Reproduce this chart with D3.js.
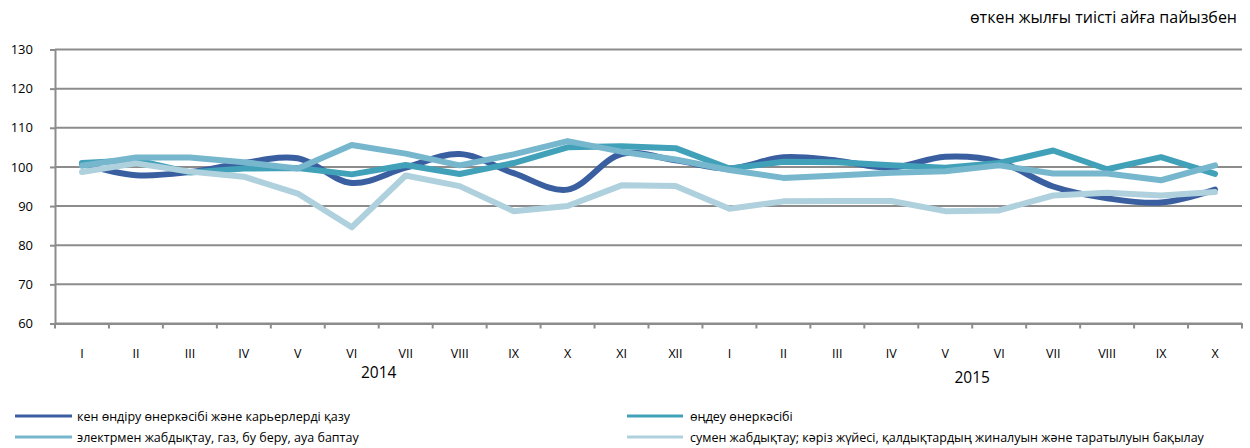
<!DOCTYPE html>
<html><head><meta charset="utf-8">
<script src="https://cdn.jsdelivr.net/npm/d3@7"></script>
<style>
body{margin:0;background:#fff;}
text{font-family:"Open Sans","Noto Sans",sans-serif;fill:#000;}
</style></head>
<body><svg id="c" width="1250" height="448"></svg>
<script>
const months = ["I","II","III","IV","V","VI","VII","VIII","IX","X","XI","XII","I","II","III","IV","V","VI","VII","VIII","IX","X"];
const years = [{label:"2014", from:0, to:11}, {label:"2015", from:12, to:21}];
const yTicks = [60,70,80,90,100,110,120,130];
const seriesNames = [
  "кен өндіру өнеркәсібі және карьерлерді қазу",
  "өңдеу өнеркәсібі",
  "электрмен жабдықтау, газ, бу беру, ауа баптау",
  "сумен жабдықтау; кәріз жүйесі, қалдықтардың жиналуын және таратылуын бақылау"
];
const mining = [100.8,97.9,98.7,101.0,102.2,95.9,99.8,103.3,98.4,94.2,103.3,101.7,99.6,102.5,101.6,99.8,102.6,101.3,95.0,92.0,90.9,94.2];
const manufacturing = [101.0,101.7,98.6,99.6,99.7,98.1,100.5,98.2,101.0,105.0,105.3,104.8,99.6,101.3,101.2,100.4,99.8,101.0,104.2,99.4,102.5,98.2];
const electricity = [100.3,102.4,102.4,101.2,99.6,105.6,103.4,100.4,103.2,106.6,103.9,101.9,99.2,97.2,97.8,98.5,98.9,100.4,98.3,98.3,96.6,100.4];
const water = [98.7,100.9,98.8,97.5,93.2,84.6,97.8,95.1,88.7,90.0,95.3,95.1,89.3,91.2,91.3,91.3,88.7,88.9,92.7,93.4,92.7,93.6];
const seriesValues = [mining, manufacturing, electricity, water];
const colors = ["#3a5fa0","#41a1b9","#76b7cd","#afd1dd"];
const curves = [d3.curveCatmullRom.alpha(0.5), d3.curveLinear, d3.curveLinear, d3.curveLinear];

const svg = d3.select("#c");
const L = 55, R = 1242, T = 49.5, B = 323.5;
const x = d3.scaleBand().domain(d3.range(months.length)).range([L, R]);
const y = d3.scaleLinear().domain([60,130]).range([B, T]);

// gridlines
svg.append("g").selectAll("line").data(yTicks).join("line")
  .attr("x1", L).attr("x2", R).attr("y1", d=>y(d)).attr("y2", d=>y(d))
  .attr("stroke", "#8c8c8c").attr("stroke-width", 2);

// y axis
const ya = svg.append("g").attr("transform", `translate(${L},0)`)
  .call(d3.axisLeft(y).tickValues(yTicks).tickSize(5).tickPadding(17));
ya.select(".domain").attr("stroke","#8c8c8c").attr("stroke-width",2);
ya.selectAll(".tick line").attr("stroke","#8c8c8c").attr("stroke-width",2);
ya.selectAll(".tick text").attr("font-size", 13).attr("font-family","'Open Sans',sans-serif");

// x axis
const xa = svg.append("g").attr("transform", `translate(0,${B})`)
  .call(d3.axisBottom(x).tickFormat(i=>months[i]).tickSize(0).tickPadding(26));
xa.select(".domain").attr("stroke","#8c8c8c").attr("stroke-width",2);
xa.selectAll(".tick text").attr("font-size", 12.5).attr("font-family","'Open Sans',sans-serif");
svg.append("g").selectAll("line").data(d3.range(months.length+1)).join("line")
  .attr("x1", i => i < months.length ? x(i) : R).attr("x2", i => i < months.length ? x(i) : R)
  .attr("y1", B).attr("y2", B+5).attr("stroke","#8c8c8c").attr("stroke-width",2);

// year labels
const yearY = [378, 383];
svg.append("g").selectAll("text").data(years).join("text")
  .attr("x", d => (x(d.from) + x(d.to) + x.bandwidth())/2)
  .attr("y", (d,i) => yearY[i]).attr("text-anchor","middle").attr("font-size", 15.5)
  .text(d => d.label);

// lines
const line = (c) => d3.line().x((d,i)=>x(i)+x.bandwidth()/2).y(d=>y(d)).curve(c);
svg.append("g").selectAll("path").data(seriesValues).join("path")
  .attr("d", (d,i)=>line(curves[i])(d))
  .attr("fill","none").attr("stroke",(d,i)=>colors[i]).attr("stroke-width",6)
  .attr("stroke-linejoin","round").attr("stroke-linecap","round");

// title
svg.append("text").attr("x", 1237).attr("y", 23).attr("text-anchor","end")
  .attr("font-size", 16).text("өткен жылғы тиісті айға пайызбен");

// legend
const legPos = [[15,416],[627,416],[15,437],[627,437]];
const lg = svg.append("g").selectAll("g").data(seriesNames).join("g")
  .attr("transform",(d,i)=>`translate(${legPos[i][0]},${legPos[i][1]})`);
lg.append("line").attr("x1",0).attr("x2",(d,i)=>i%2?56:57).attr("y1",0).attr("y2",0)
  .attr("stroke",(d,i)=>colors[i]).attr("stroke-width",3);
lg.append("text").attr("x",(d,i)=>i%2?63:62).attr("y",4.5).attr("font-size",12.5).text(d=>d);
</script></body></html>
